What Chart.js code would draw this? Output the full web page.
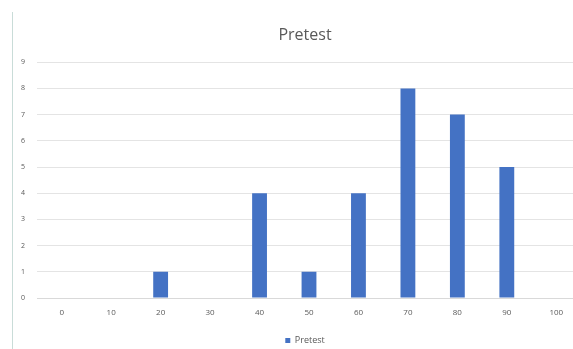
<!DOCTYPE html>
<html>
<head>
<meta charset="utf-8">
<script src="https://cdn.jsdelivr.net/npm/chart.js@4"></script>
<style>
  html, body { margin: 0; padding: 0; background: #fff; overflow: hidden; }
  #frame { position: absolute; left: 12px; top: 12px; width: 0; height: 340px; border-left: 1px solid #c9dcd8; }
  #wrap { position: absolute; left: 0; top: 0; width: 600px; height: 349px; }
</style>
</head>
<body>
<div id="wrap"><canvas id="pretest-chart" width="600" height="349"></canvas></div>
<div id="frame"></div>
<script>
// pretest score distribution
var scoreLabels = ['0', '10', '20', '30', '40', '50', '60', '70', '80', '90', '100'];
var pretestCounts = [0, 0, 1, 0, 4, 1, 4, 8, 7, 5, 0];
var countTicks = [0, 1, 2, 3, 4, 5, 6, 7, 8, 9];

var ctx = document.getElementById('pretest-chart').getContext('2d');
var chart = new Chart(ctx, {
    type: 'bar',
    data: {
        labels: scoreLabels,
        datasets: [{
            label: 'Pretest',
            backgroundColor: '#4472C4',
            data: pretestCounts,
            categoryPercentage: 1,
            barPercentage: 0.3
        }]
    },
    options: {
        responsive: false,
        animation: false,
        devicePixelRatio: 1,
        layout: { padding: { left: 14, right: 4, top: 26, bottom: -6 } },
        plugins: {
            title: {
                display: true,
                text: 'Pretest',
                color: '#595959',
                font: { family: 'Open Sans', size: 16, weight: 'normal' },
                padding: { top: 0, bottom: 17 }
            },
            legend: {
                position: 'bottom',
                labels: {
                    color: '#595959',
                    font: { family: 'Open Sans', size: 9 },
                    boxWidth: 5,
                    boxHeight: 5,
                    padding: 5
                }
            },
            tooltip: { enabled: false }
        },
        scales: {
            x: {
                afterFit: function (scale) { scale.height = 33; },
                grid: { display: false },
                border: { color: '#d9d9d9' },
                ticks: { color: '#595959', font: { family: 'Open Sans', size: 8 }, padding: 2, maxRotation: 0 }
            },
            y: {
                min: 0,
                max: 9,
                afterBuildTicks: function (scale) {
                    scale.ticks = countTicks.map(function (v) { return { value: v }; });
                },
                afterFit: function (scale) { scale.width = 23; },
                grid: { color: '#e4e4e4', drawTicks: false },
                border: { display: false },
                ticks: { color: '#595959', font: { family: 'Open Sans', size: 7 }, padding: 12, autoSkip: false }
            },
            // empty right-hand strip so the plot ends where the categories need it
            yRight: {
                position: 'right',
                afterFit: function (scale) { scale.width = 15; },
                grid: { display: false },
                border: { display: false },
                ticks: { display: false }
            }
        }
    }
});
</script>
</body>
</html>
